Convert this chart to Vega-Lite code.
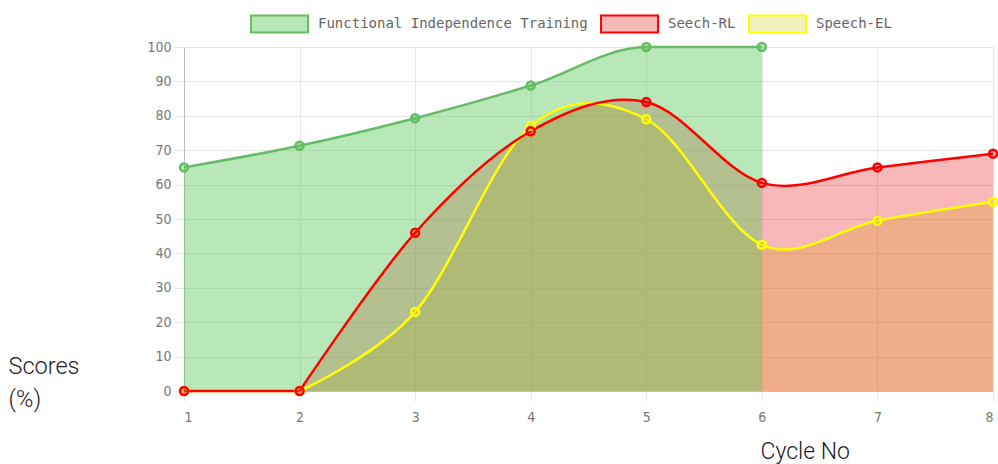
{
  "$schema": "https://vega.github.io/schema/vega-lite/v6.json",
  "width": 809,
  "height": 344,
  "autosize": "none",
  "padding": {"left": 184, "top": 47, "right": 5, "bottom": 73},
  "background": "white",
  "config": {
    "view": {"stroke": null},
    "legend": {
      "orient": "none", "legendX": 86, "legendY": -32.5, "direction": "horizontal", "title": null,
      "symbolType": "M-3.35,-1H3.35V1H-3.35Z", "symbolSize": 289, "symbolStrokeWidth": 2, "symbolOpacity": 1,
      "labelFont": "DejaVu Sans Mono", "labelFontSize": 14, "labelColor": "#666", "labelLimit": 400,
      "labelOffset": 29, "columnPadding": 9, "padding": 0
    }
  },
  "data": {
    "values": [
      {"cycle": 1, "series": "Speech-EL", "score": 0},
      {"cycle": 2, "series": "Speech-EL", "score": 0},
      {"cycle": 3, "series": "Speech-EL", "score": 23},
      {"cycle": 4, "series": "Speech-EL", "score": 77},
      {"cycle": 5, "series": "Speech-EL", "score": 79},
      {"cycle": 6, "series": "Speech-EL", "score": 42.5},
      {"cycle": 7, "series": "Speech-EL", "score": 49.5},
      {"cycle": 8, "series": "Speech-EL", "score": 55},
      {"cycle": 1, "series": "Seech-RL", "score": 0},
      {"cycle": 2, "series": "Seech-RL", "score": 0},
      {"cycle": 3, "series": "Seech-RL", "score": 46},
      {"cycle": 4, "series": "Seech-RL", "score": 75.5},
      {"cycle": 5, "series": "Seech-RL", "score": 84},
      {"cycle": 6, "series": "Seech-RL", "score": 60.5},
      {"cycle": 7, "series": "Seech-RL", "score": 65},
      {"cycle": 8, "series": "Seech-RL", "score": 69},
      {"cycle": 1, "series": "Functional Independence Training", "score": 65},
      {"cycle": 2, "series": "Functional Independence Training", "score": 71.3},
      {"cycle": 3, "series": "Functional Independence Training", "score": 79.3},
      {"cycle": 4, "series": "Functional Independence Training", "score": 88.8},
      {"cycle": 5, "series": "Functional Independence Training", "score": 100},
      {"cycle": 6, "series": "Functional Independence Training", "score": 100}
    ]
  },
  "encoding": {
    "x": {
      "field": "cycle",
      "type": "quantitative",
      "scale": {"domain": [1, 8], "nice": false, "zero": false},
      "axis": {
        "values": [1, 2, 3, 4, 5, 6, 7, 8],
        "format": "d",
        "title": "Cycle No",
        "titleX": 576,
        "titleY": 67,
        "titleAlign": "left",
        "titleBaseline": "alphabetic",
        "titleFont": "Roboto",
        "titleFontSize": 23,
        "titleFontWeight": 300,
        "titleColor": "#222",
        "grid": true,
        "gridColor": "#e6e6e6",
        "domainColor": "#bfbfbf",
        "tickColor": "#e6e6e6",
        "tickSize": 10,
        "labelPadding": 9,
        "labelFont": "DejaVu Sans Condensed, Liberation Sans Narrow, DejaVu Sans",
        "labelFontSize": 14,
        "labelColor": "#777"
      }
    },
    "y": {
      "field": "score",
      "type": "quantitative",
      "stack": null,
      "scale": {"domain": [0, 100], "nice": false},
      "axis": {
        "values": [0, 10, 20, 30, 40, 50, 60, 70, 80, 90, 100],
        "title": ["Scores", "(%)"],
        "titleAngle": 0,
        "titleX": -176,
        "titleY": 326,
        "titleAlign": "left",
        "titleBaseline": "alphabetic",
        "titleLineHeight": 33,
        "titleFont": "Roboto",
        "titleFontSize": 23.5,
        "titleFontWeight": 300,
        "titleColor": "#222",
        "grid": true,
        "gridColor": "#e6e6e6",
        "domainColor": "#bfbfbf",
        "tickColor": "#e6e6e6",
        "tickSize": 10,
        "labelPadding": 3,
        "labelFont": "DejaVu Sans Condensed, Liberation Sans Narrow, DejaVu Sans",
        "labelFontSize": 14,
        "labelColor": "#777"
      }
    }
  },
  "layer": [
    {
      "transform": [{"filter": "datum.series === 'Speech-EL' && datum.cycle >= 2"}],
      "mark": {"type": "area", "interpolate": "cardinal"},
      "encoding": {
        "fill": {"field": "series", "type": "nominal",
          "scale": {"domain": ["Functional Independence Training", "Seech-RL", "Speech-EL"],
                    "range": ["rgba(94,203,94,0.44)", "rgba(229,0,0,0.28)", "rgba(210,210,40,0.3)"]}}
      }
    },
    {
      "transform": [{"filter": "datum.series === 'Seech-RL' && datum.cycle >= 2"}],
      "mark": {"type": "area", "interpolate": "cardinal"},
      "encoding": {
        "fill": {"field": "series", "type": "nominal"}
      }
    },
    {
      "transform": [{"filter": "datum.series === 'Functional Independence Training'"}],
      "mark": {"type": "area", "interpolate": "monotone"},
      "encoding": {
        "fill": {"field": "series", "type": "nominal"}
      }
    },
    {
      "transform": [{"filter": "datum.series !== 'Functional Independence Training' && datum.cycle <= 2"}],
      "mark": {"type": "line", "interpolate": "linear", "strokeWidth": 2.5},
      "encoding": {
        "stroke": {"field": "series", "type": "nominal",
          "scale": {"domain": ["Functional Independence Training", "Seech-RL", "Speech-EL"],
                    "range": ["#66bb66", "#ff0000", "#ffff00"]}}
      }
    },
    {
      "transform": [{"filter": "datum.series === 'Speech-EL' && datum.cycle >= 2"}],
      "mark": {"type": "line", "interpolate": "cardinal", "strokeWidth": 2.5},
      "encoding": {
        "stroke": {"field": "series", "type": "nominal"}
      }
    },
    {
      "transform": [{"filter": "datum.series === 'Seech-RL' && datum.cycle >= 2"}],
      "mark": {"type": "line", "interpolate": "cardinal", "strokeWidth": 2.5},
      "encoding": {
        "stroke": {"field": "series", "type": "nominal"}
      }
    },
    {
      "transform": [{"filter": "datum.series === 'Functional Independence Training'"}],
      "mark": {"type": "line", "interpolate": "monotone", "strokeWidth": 2.5},
      "encoding": {
        "stroke": {"field": "series", "type": "nominal"}
      }
    },
    {
      "mark": {"type": "point", "filled": true, "size": 64, "strokeWidth": 2.5, "opacity": 1},
      "encoding": {
        "fill": {"field": "series", "type": "nominal"},
        "stroke": {"field": "series", "type": "nominal"}
      }
    }
  ]
}
